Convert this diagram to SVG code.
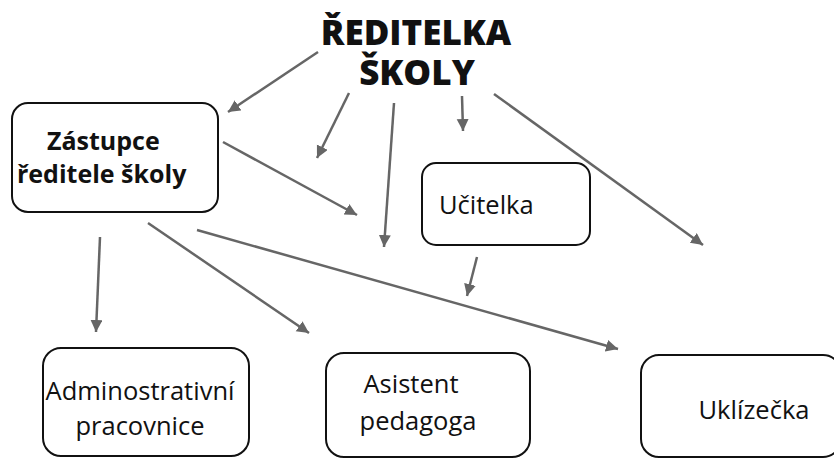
<svg xmlns="http://www.w3.org/2000/svg" width="834" height="458" viewBox="0 0 834 458">
<defs>
<marker id="ah" markerUnits="userSpaceOnUse" markerWidth="14" markerHeight="14" refX="12" refY="6" orient="auto">
<path d="M0,0 L12,6 L0,12 Z" fill="#666"/>
</marker>
<style>
.box{fill:#fff;stroke:#111;stroke-width:2}
.con{stroke:#666;stroke-width:2.5;fill:none;marker-end:url(#ah)}
.t{font-family:"Open Sans","Liberation Sans",sans-serif;fill:#111}
.title{font-family:"Open Sans","Liberation Sans",sans-serif;font-weight:800;font-size:35px;fill:#111;text-anchor:middle}
.b{font-weight:700;font-size:25px}
.r{font-size:25.5px}
</style>
</defs>
<rect width="834" height="458" fill="#fff"/>
<g id="connectors">
<line class="con" x1="318" y1="52" x2="228" y2="112"/>
<line class="con" x1="349" y1="93" x2="317" y2="158"/>
<line class="con" x1="394" y1="103" x2="384" y2="247"/>
<line class="con" x1="462" y1="96" x2="463" y2="131"/>
<line class="con" x1="494" y1="94" x2="703" y2="245"/>
<line class="con" x1="223" y1="142" x2="357" y2="215"/>
<line class="con" x1="100" y1="237" x2="96" y2="332"/>
<line class="con" x1="148" y1="223" x2="309" y2="333"/>
<line class="con" x1="197" y1="230" x2="618" y2="349"/>
<line class="con" x1="477" y1="257" x2="467" y2="296"/>
</g>
<g id="reditelka">
<text class="title" x="416" y="45">ŘEDITELKA</text>
<text class="title" x="417" y="85">ŠKOLY</text>
</g>
<g id="zastupce">
<rect class="box" x="12" y="103" width="206" height="109" rx="16"/>
<text class="t b" x="47" y="150">Zástupce</text>
<text class="t b" x="17" y="183">ředitele školy</text>
</g>
<g id="ucitelka">
<rect class="box" x="422" y="163" width="168" height="82" rx="14"/>
<text class="t r" x="439" y="214">Učitelka</text>
</g>
<g id="administrativni">
<rect class="box" x="43" y="348" width="206" height="108" rx="18"/>
<text class="t r" x="140" y="400" text-anchor="middle">Adminostrativní</text>
<text class="t r" x="140" y="435" text-anchor="middle">pracovnice</text>
</g>
<g id="asistent">
<rect class="box" x="326" y="353" width="204" height="104" rx="18"/>
<text class="t r" x="411" y="393" text-anchor="middle">Asistent</text>
<text class="t r" x="418" y="430" text-anchor="middle">pedagoga</text>
</g>
<g id="uklizecka">
<rect class="box" x="641" y="355" width="200" height="102" rx="18"/>
<text class="t r" x="754" y="419" text-anchor="middle">Uklízečka</text>
</g>
</svg>
